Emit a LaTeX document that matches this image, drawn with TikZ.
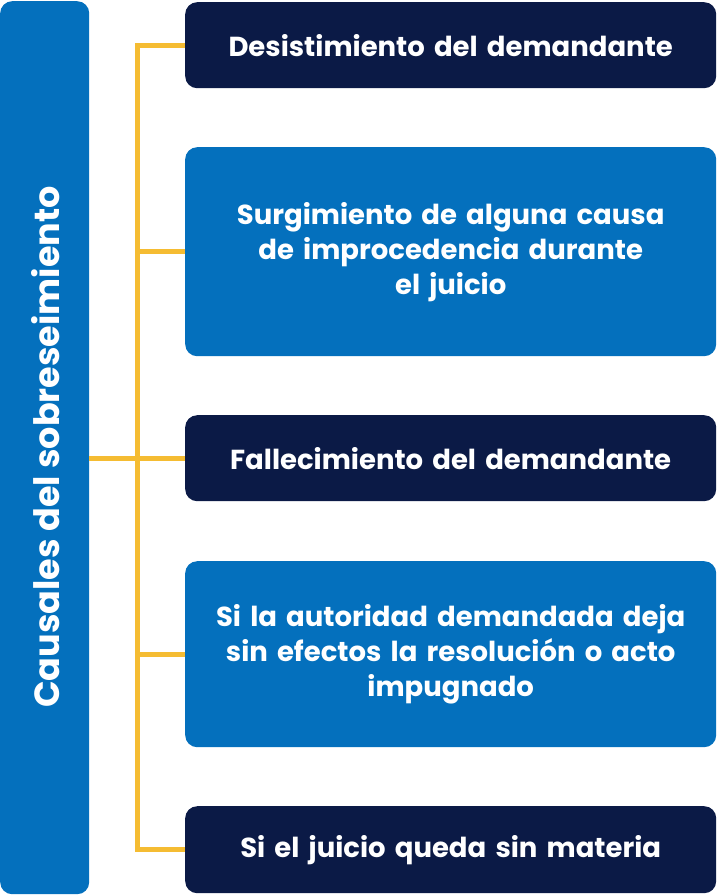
\documentclass[tikz,border=0pt]{standalone}
\usepackage{fontspec}
\setmainfont{Poppins}
\definecolor{navy}{HTML}{0B1A46}
\definecolor{mblue}{HTML}{0470BD}
\definecolor{gold}{HTML}{F5BC32}
\begin{document}
\begin{tikzpicture}[x=1pt,y=-1pt,
  box/.style={rounded corners=12pt,minimum width=531pt,anchor=north west,inner sep=0pt,text=white,font=\fontsize{27.5}{35}\selectfont\bfseries,align=center,text width=520pt},
  dark/.style={box,fill=navy},
  light/.style={box,fill=mblue},
  conn/.style={gold,line width=5pt}]
\useasboundingbox (0,0) rectangle (716,895);
\node[fill=mblue,rounded corners=12pt,minimum width=89pt,minimum height=893pt,anchor=north west,inner sep=0pt] (bar) at (0,1) {};
\node[rotate=90,text=white,font=\fontsize{35}{40}\selectfont\bfseries] (bt) at (46,447) {Causales del sobreseimiento};
\node[dark,minimum height=86pt] (b1) at (185,2) {Desistimiento del demandante};
\node[light,minimum height=209pt] (b2) at (185,147) {Surgimiento de alguna causa\\de improcedencia durante\\el juicio};
\node[dark,minimum height=86pt] (b3) at (185,415) {Fallecimiento del demandante};
\node[light,minimum height=186pt] (b4) at (185,561) {Si la autoridad demandada deja\\sin efectos la resolución o acto\\impugnado};
\node[dark,minimum height=87pt] (b5) at (185,806) {Si el juicio queda sin materia};
\draw[conn] (b1.west) -| (137,0|-b5.west) -- (b5.west);
\draw[conn] (b2.west) -- (137,0|-b2.west);
\draw[conn] (b4.west) -- (137,0|-b4.west);
\draw[conn] (bar.east|-b3.west) -- (b3.west);
\end{tikzpicture}
\end{document}
